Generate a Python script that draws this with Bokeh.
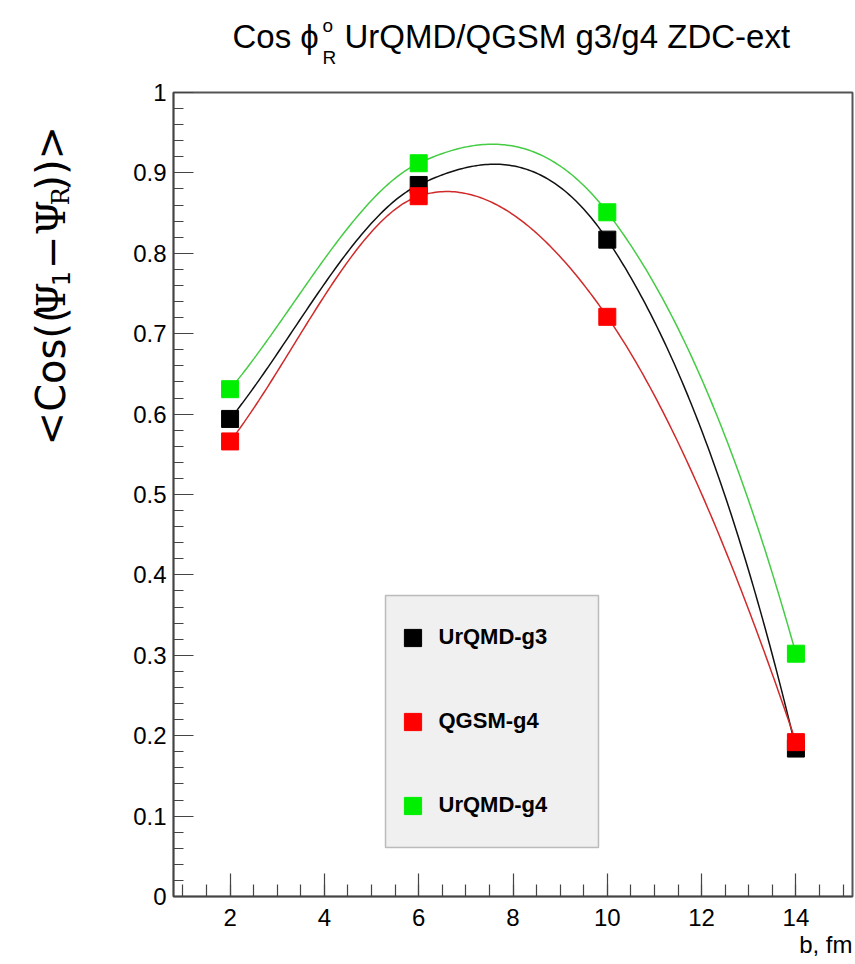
import numpy as np
from bokeh.plotting import figure
from bokeh.layouts import column, row
from bokeh.models import (SingleIntervalTicker, CustomJSTickFormatter, Label, Legend,
                          LegendItem, BoxAnnotation, Range1d, Title)
from bokeh.embed import file_html
from bokeh.resources import INLINE

# ---- data ----
b_fm = [2, 6, 10, 14]
urqmd_g3 = [0.594, 0.885, 0.817, 0.184]
qgsm_g4 = [0.566, 0.871, 0.721, 0.192]
urqmd_g4 = [0.631, 0.912, 0.851, 0.302]
series_names = ["UrQMD-g3", "QGSM-g4", "UrQMD-g4"]
title_main = "Cos \u03d5"
title_rest = "UrQMD/QGSM g3/g4 ZDC-ext"
x_title = "b, fm"

# ---- layout constants (canvas px) ----
W, H = 855, 964
TOP_H = 80          # title strip
LEFT_W = 110        # y-title strip
MAIN_W = W - LEFT_W
MAIN_H = H - TOP_H
FL, FT, FR, FB = 173, 92, 852, 896   # plot frame edges on the page


def text_fig(w, h, x0, y0):
    f = figure(width=w, height=h, x_range=Range1d(x0, x0 + w), y_range=Range1d(y0 + h, y0),
               x_axis_type=None, y_axis_type=None, output_backend="svg",
               toolbar_location=None, min_border=0, title=None)
    f.outline_line_color = None
    f.background_fill_color = "white"
    f.border_fill_color = "white"
    return f


def lab(f, text, cx, cy, font, size, angle=0.0, align="left", style="normal"):
    f.add_layout(Label(x=cx, y=cy, text=text, text_font=font, text_font_size=size,
                       text_font_style=style, angle=angle, text_align=align,
                       text_baseline="alphabetic", text_color="black"))


# ---- main plot ----
p = figure(width=MAIN_W, height=MAIN_H, x_range=Range1d(0.8, 15.2), y_range=Range1d(0, 1),
           output_backend="svg", toolbar_location=None, title=None,
           min_border_left=FL - LEFT_W, min_border_right=W - FR,
           min_border_top=FT - TOP_H, min_border_bottom=H - FB)
p.background_fill_color = "white"
p.border_fill_color = "white"
p.xgrid.visible = False
p.ygrid.visible = False
p.outline_line_color = "#555555"
p.outline_line_width = 2

p.xaxis.ticker = SingleIntervalTicker(interval=2, num_minor_ticks=4)
p.yaxis.ticker = SingleIntervalTicker(interval=0.1, num_minor_ticks=5)
p.yaxis.formatter = CustomJSTickFormatter(code="return String(Math.round(tick*10)/10);")
for ax, maj, mnr, so in ((p.xaxis, 23, 12, 12), (p.yaxis, 20, 10, 7)):
    ax.major_tick_in = maj
    ax.major_tick_out = 0
    ax.minor_tick_in = mnr
    ax.minor_tick_out = 0
    ax.axis_line_color = "#444444"
    ax.axis_line_width = 1.5
    ax.major_tick_line_color = "#444444"
    ax.minor_tick_line_color = "#444444"
    ax.major_label_text_font = "Liberation Sans"
    ax.major_label_text_font_size = "24px"
    ax.major_label_text_color = "black"
    ax.major_label_standoff = so
    ax.major_tick_line_width = 1.2
    ax.minor_tick_line_width = 1.2

# x-axis title, right-aligned below the tick labels
p.add_layout(Title(text=x_title, align="right", standoff=0, offset=0,
                   text_font="Liberation Sans", text_font_size="24px",
                   text_font_style="normal", text_color="black"), "below")

colors = {"UrQMD-g3": "black", "QGSM-g4": "#ff0000", "UrQMD-g4": "#00ee00"}
line_colors = {"UrQMD-g3": "#111111", "QGSM-g4": "#d02a2a", "UrQMD-g4": "#44cc44"}
values = {"UrQMD-g3": urqmd_g3, "QGSM-g4": qgsm_g4, "UrQMD-g4": urqmd_g4}
draw_order = ["UrQMD-g4", "UrQMD-g3", "QGSM-g4"]


def smooth(xv, yv, n=80):
    """Cubic Hermite curve through the given points (like ROOT's 'C' option)."""
    xv = np.asarray(xv, float)
    yv = np.asarray(yv, float)
    m = np.zeros_like(yv)
    m[1:-1] = (yv[2:] - yv[:-2]) / (xv[2:] - xv[:-2])
    m[0] = (yv[1] - yv[0]) / (xv[1] - xv[0])
    m[-1] = np.polyval(np.polyder(np.polyfit(xv, yv, len(xv) - 1)), xv[-1])
    ox, oy = [], []
    for i in range(len(xv) - 1):
        h = xv[i + 1] - xv[i]
        t = np.linspace(0, 1, n)
        h00 = 2 * t**3 - 3 * t**2 + 1
        h10 = t**3 - 2 * t**2 + t
        h01 = -2 * t**3 + 3 * t**2
        h11 = t**3 - t**2
        ox.extend(xv[i] + t * h)
        oy.extend(h00 * yv[i] + h10 * h * m[i] + h01 * yv[i + 1] + h11 * h * m[i + 1])
    return ox, oy


for name in draw_order:
    cx, cy = smooth(b_fm, values[name])
    p.line(cx, cy, line_color=line_colors[name], line_width=1.5)

rends = {}
for name in draw_order:
    rends[name] = p.scatter(b_fm, values[name], marker="square", size=17,
                            fill_color=colors[name], line_color=colors[name])

# legend box (screen units relative to the frame)
box = BoxAnnotation(left=385 - FL, right=598 - FL, top=FB - 595, bottom=FB - 847,
                    left_units="screen", right_units="screen",
                    top_units="screen", bottom_units="screen",
                    fill_color="#f0f0f0", fill_alpha=1.0,
                    line_color="#333333", line_width=1.5)
p.add_layout(box)

legend = Legend(items=[LegendItem(label=n, renderers=[rends[n]]) for n in series_names],
                location=(390.5 - FL, FB - 826.5),
                glyph_width=43, glyph_height=43, spacing=41, padding=0, margin=0,
                label_standoff=5, label_height=43,
                background_fill_alpha=0, border_line_alpha=0,
                label_text_font="Liberation Sans", label_text_font_style="bold",
                label_text_font_size="22px", label_text_color="black")
p.add_layout(legend)

# ---- title strip ----
top = text_fig(W, TOP_H, 0, 0)
TF = "Liberation Sans"
lab(top, title_main, 232, 36, TF, "33px")
lab(top, "o", 322, 25, TF, "19px")
lab(top, "R", 322, 57, TF, "19px")
lab(top, title_rest, 344, 36, TF, "33px")

# ---- y title strip ----
left = text_fig(LEFT_W, MAIN_H, 0, TOP_H)
A = np.pi / 2
SF = "DejaVu Sans"
GF = "DejaVu Serif"
bx = 50
lab(left, "<Cos((", bx, 468, SF, "40px", angle=A)
lab(left, "\u03a8", bx, 327, GF, "40px", angle=A)
lab(left, "1", bx + 10, 293, SF, "24px", angle=A)
lab(left, "\u2212", bx, 274, SF, "40px", angle=A)
lab(left, "\u03a8", bx, 237, GF, "40px", angle=A)
lab(left, "R", bx + 10, 204, GF, "24px", angle=A)
lab(left, "))>", bx, 188, SF, "40px", angle=A)

layout = column(top, row(left, p, spacing=0), spacing=0)
open("out.html", "w").write(file_html(layout, INLINE))
